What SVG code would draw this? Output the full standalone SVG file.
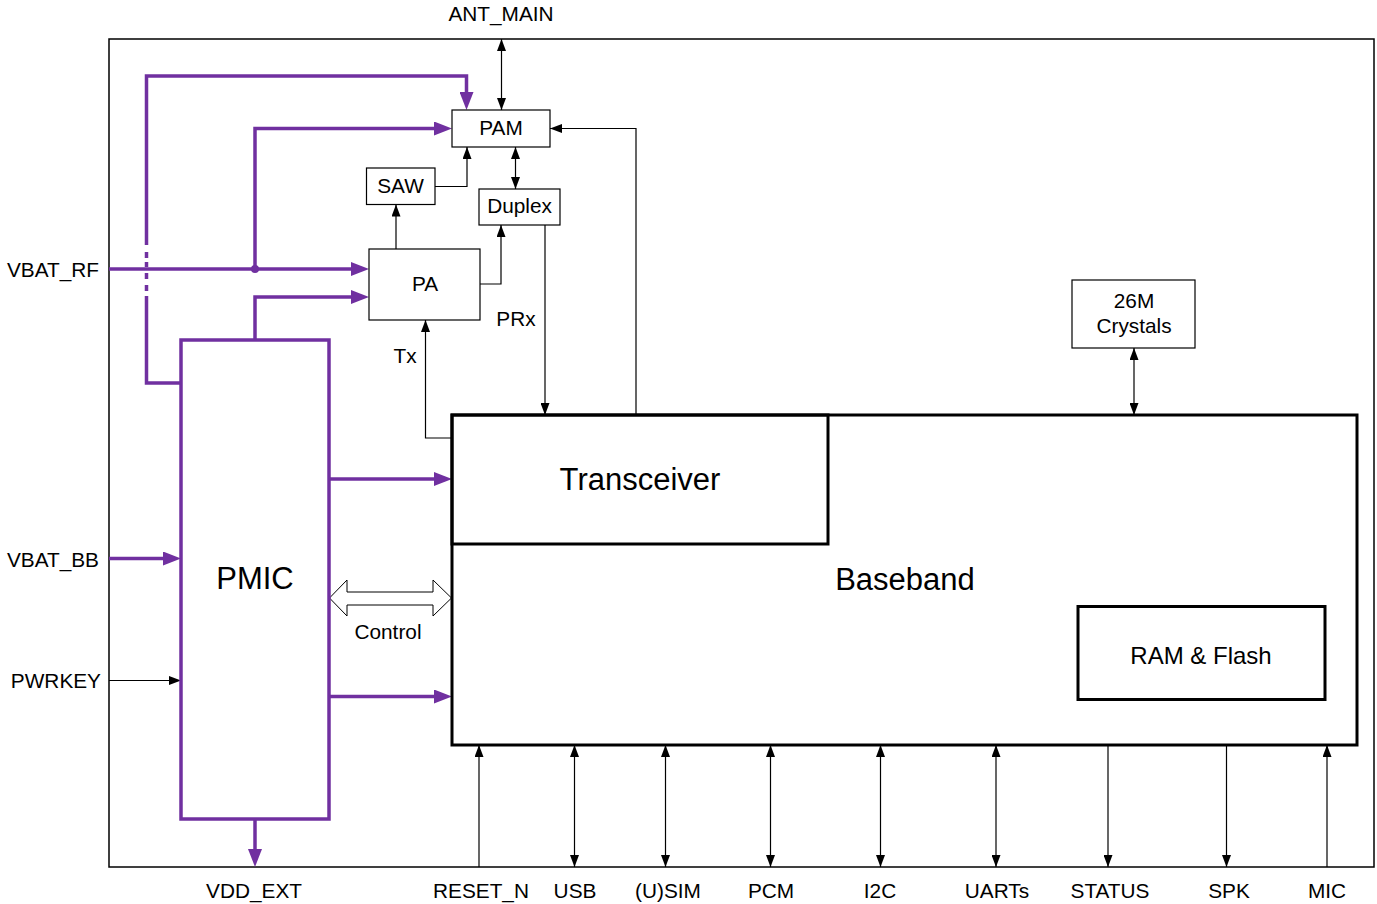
<svg xmlns="http://www.w3.org/2000/svg" width="1377" height="904" viewBox="0 0 1377 904">
<style>
text{font-family:"Liberation Sans",Arial,sans-serif;fill:#000;text-anchor:middle}
.s{font-size:20.8px}
.b{font-size:31px}
.m{font-size:24px}
.thin{fill:none;stroke:#000;stroke-width:1.2}
.box{fill:#fff;stroke:#000;stroke-width:1.2}
.thick{fill:none;stroke:#000;stroke-width:3}
.pur{fill:none;stroke:#7030A0;stroke-width:3.5}
.ta{marker-end:url(#ak)}
.td{marker-start:url(#ak);marker-end:url(#ak)}
.pa{marker-end:url(#ap)}
</style>
<defs>
<marker id="ap" viewBox="0 0 18 14" refX="8" refY="7" markerWidth="18" markerHeight="14" markerUnits="userSpaceOnUse" orient="auto-start-reverse"><path d="M0,0L18,7L0,14z" fill="#7030A0"/></marker>
<marker id="ak" viewBox="0 0 12 9" refX="12" refY="4.5" markerWidth="12" markerHeight="9" markerUnits="userSpaceOnUse" orient="auto-start-reverse"><path d="M0,0L12,4.5L0,9z" fill="#000"/></marker>
</defs>
<rect x="109" y="39" width="1265" height="828" fill="none" stroke="#000" stroke-width="1.5"/>
<g id="connectors">
<path class="pur" d="M181,383H146.5V296"/>
<path class="pur" d="M146.5,252V258M146.5,262V267M146.5,273V279M146.5,285V291"/>
<path class="pur pa" d="M146.5,245V76H466.5V100"/>
<path class="pur pa" d="M109,269H359"/>
<circle cx="255" cy="269" r="4" fill="#7030A0"/>
<path class="pur pa" d="M255,269V128.5H442"/>
<path class="pur pa" d="M255,340V297H359"/>
<path class="pur pa" d="M329,479H442"/>
<path class="pur pa" d="M329,696.5H442"/>
<path class="pur pa" d="M109,558.5H171"/>
<path class="pur pa" d="M255,819V857"/>
<path class="thin td" d="M501.5,39V110"/>
<path class="thin ta" d="M396,249V204.5"/>
<path class="thin ta" d="M435,186.5H467V147"/>
<path class="thin td" d="M515.5,147V189"/>
<path class="thin ta" d="M480,284H501V225"/>
<path class="thin ta" d="M545,225V415"/>
<path class="thin ta" d="M636,415V128.5H550"/>
<path class="thin ta" d="M452,438H425.5V320"/>
<path class="thin ta" d="M109,680.5H181"/>
<path class="thin td" d="M1134,348V415"/>
<path class="thin ta" d="M479,867V745"/>
<path class="thin td" d="M574.5,867V745"/>
<path class="thin td" d="M665.5,867V745"/>
<path class="thin td" d="M770.5,867V745"/>
<path class="thin td" d="M880.5,867V745"/>
<path class="thin td" d="M996,867V745"/>
<path class="thin ta" d="M1108,745V867"/>
<path class="thin ta" d="M1226.5,745V867"/>
<path class="thin ta" d="M1327,867V745"/>
<polygon points="329.5,598 347,580 347,592 433,592 433,580 451.5,598 433,616 433,605 347,605 347,616" fill="#fff" stroke="#000" stroke-width="1"/>
<text class="s" x="388" y="639">Control</text>
<text class="s" x="405" y="363">Tx</text>
<text class="s" x="516" y="326">PRx</text>
</g>
<g id="pam"><rect class="box" x="452" y="110" width="98" height="37"/><text class="s" x="501" y="135">PAM</text></g>
<g id="saw"><rect class="box" x="366.5" y="168" width="68.5" height="36.5"/><text class="s" x="400.5" y="193">SAW</text></g>
<g id="duplex"><rect class="box" x="479" y="189" width="81" height="36"/><text class="s" x="519.5" y="213">Duplex</text></g>
<g id="pa"><rect class="box" x="369" y="249" width="111" height="71"/><text class="s" x="425" y="291">PA</text></g>
<g id="crystals"><rect class="box" x="1072" y="280" width="123" height="68"/><text class="s" x="1134" y="308">26M</text><text class="s" x="1134" y="333">Crystals</text></g>
<g id="pmic"><rect class="pur" x="181" y="340" width="148" height="479"/><text class="b" x="255" y="589">PMIC</text></g>
<g id="baseband"><rect class="thick" x="452" y="415" width="905" height="330"/><text class="b" x="905" y="590">Baseband</text></g>
<g id="transceiver"><rect class="thick" x="452" y="415" width="376" height="129"/><text class="b" x="640" y="490">Transceiver</text></g>
<g id="ramflash"><rect class="thick" x="1078" y="606.5" width="247" height="93"/><text class="m" x="1201" y="664">RAM &amp; Flash</text></g>
<g id="labels">
<text class="s" x="501" y="21">ANT_MAIN</text>
<text class="s" x="99" y="277" style="text-anchor:end">VBAT_RF</text>
<text class="s" x="99" y="567" style="text-anchor:end">VBAT_BB</text>
<text class="s" x="101" y="688" style="text-anchor:end">PWRKEY</text>
<text class="s" x="254" y="898">VDD_EXT</text>
<text class="s" x="481" y="898">RESET_N</text>
<text class="s" x="575" y="898">USB</text>
<text class="s" x="668" y="898">(U)SIM</text>
<text class="s" x="771" y="898">PCM</text>
<text class="s" x="880" y="898">I2C</text>
<text class="s" x="997" y="898">UARTs</text>
<text class="s" x="1110" y="898">STATUS</text>
<text class="s" x="1229" y="898">SPK</text>
<text class="s" x="1327" y="898">MIC</text>
</g>
</svg>
